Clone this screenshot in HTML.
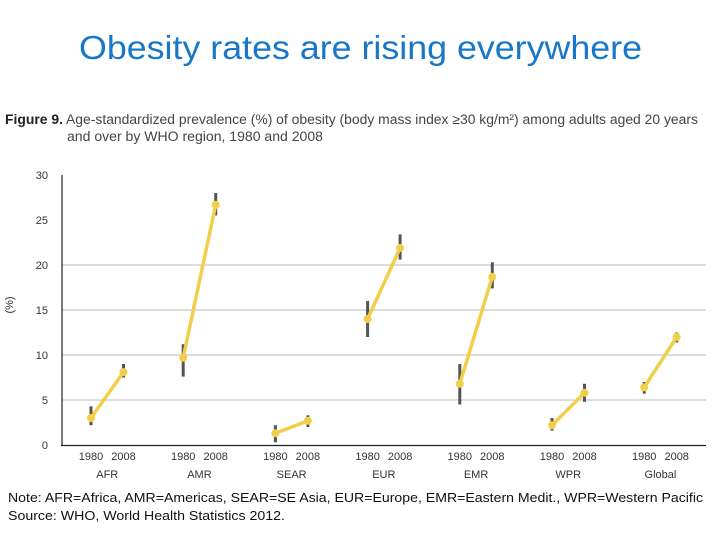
<!DOCTYPE html>
<html><head><meta charset="utf-8"><style>
body{margin:0;width:720px;height:540px;background:#fff;overflow:hidden;font-family:"Liberation Sans",Arial,sans-serif}
</style></head><body>
<svg width="720" height="540" xmlns="http://www.w3.org/2000/svg">
<text x="79" y="59" font-size="33" fill="#1877c9" textLength="563" lengthAdjust="spacingAndGlyphs">Obesity rates are rising everywhere</text>
<text x="5" y="124" font-size="13.5" fill="#444" textLength="693" lengthAdjust="spacingAndGlyphs"><tspan font-weight="bold" fill="#222">Figure 9.</tspan> Age-standardized prevalence (%) of obesity (body mass index ≥30 kg/m²) among adults aged 20 years</text>
<text x="67" y="141" font-size="13.5" fill="#444" textLength="256" lengthAdjust="spacingAndGlyphs">and over by WHO region, 1980 and 2008</text>
<text transform="translate(13,305) rotate(-90)" text-anchor="middle" font-size="11" fill="#333">(%)</text>
<g id="grid"></g><g id="yticks"></g><g id="xlabels"></g><g id="marks"></g>
<line x1="62" y1="175" x2="62" y2="446" stroke="#222" stroke-width="1.2"/>
<line x1="61" y1="445.5" x2="706" y2="445.5" stroke="#222" stroke-width="1.2"/>
<text x="8" y="502" font-size="12.5" fill="#111" textLength="695" lengthAdjust="spacingAndGlyphs">Note:  AFR=Africa, AMR=Americas, SEAR=SE Asia, EUR=Europe, EMR=Eastern Medit., WPR=Western Pacific</text>
<text x="8" y="520" font-size="12.5" fill="#111" textLength="277" lengthAdjust="spacingAndGlyphs">Source:  WHO, World Health Statistics 2012.</text>
</svg>
<script>
const regions=["AFR","AMR","SEAR","EUR","EMR","WPR","Global"];
const v1980=[3.0,9.7,1.3,14.0,6.8,2.2,6.4];
const v2008=[8.1,26.7,2.7,21.9,18.7,5.8,12.0];
const lo1980=[2.2,7.6,0.3,12.0,4.5,1.6,5.7];
const hi1980=[4.3,11.2,2.2,16.0,9.0,3.0,7.0];
const lo2008=[7.5,25.5,2.0,20.6,17.4,4.8,11.4];
const hi2008=[9.0,28.0,3.3,23.4,20.3,6.8,12.5];
const yTicks=[0,5,10,15,20,25,30];
const gridVals=[5,10,15,20];
const NS="http://www.w3.org/2000/svg";
const y=v=>445-v*9;
const x=(i,k)=>91+i*92.2+k*32.5;
function mk(tag,attrs,parent,text){const e=document.createElementNS(NS,tag);for(const a in attrs)e.setAttribute(a,attrs[a]);if(text!==undefined)e.textContent=text;document.getElementById(parent).appendChild(e);return e;}
gridVals.forEach(v=>{const e=mk("line",{x1:62,x2:706,y1:y(v),y2:y(v),stroke:"#bbb","stroke-width":1},"grid");

});
yTicks.forEach(v=>{const e=mk("text",{x:48,y:y(v)+4,"text-anchor":"end","font-size":11,fill:"#333"},"yticks",String(v));

});
regions.forEach((r,i)=>{
 [["1980",0],["2008",1]].forEach(([t,k])=>{const e=mk("text",{x:x(i,k),y:460,"text-anchor":"middle","font-size":11,fill:"#333"},"xlabels",t);
 
 });
 const g=mk("text",{x:x(i,0.5),y:478,"text-anchor":"middle","font-size":11,fill:"#333"},"xlabels",r);
 
 
 const e1=mk("line",{x1:x(i,0),x2:x(i,0),y1:y(lo1980[i]),y2:y(hi1980[i]),stroke:"#555","stroke-width":3},"marks");
 
 
 const e2=mk("line",{x1:x(i,1),x2:x(i,1),y1:y(lo2008[i]),y2:y(hi2008[i]),stroke:"#555","stroke-width":3},"marks");
 
 
 const l=mk("line",{x1:x(i,0),x2:x(i,1),y1:y(v1980[i]),y2:y(v2008[i]),stroke:"#f2cf4a","stroke-width":3.5,"stroke-linecap":"round"},"marks");
 
 
 [[v1980[i],0],[v2008[i],1]].forEach(([v,k])=>{const c=mk("circle",{cx:x(i,k),cy:y(v),r:4,fill:"#f2cf4a"},"marks");
 
 });
});
</script>
</body></html>
